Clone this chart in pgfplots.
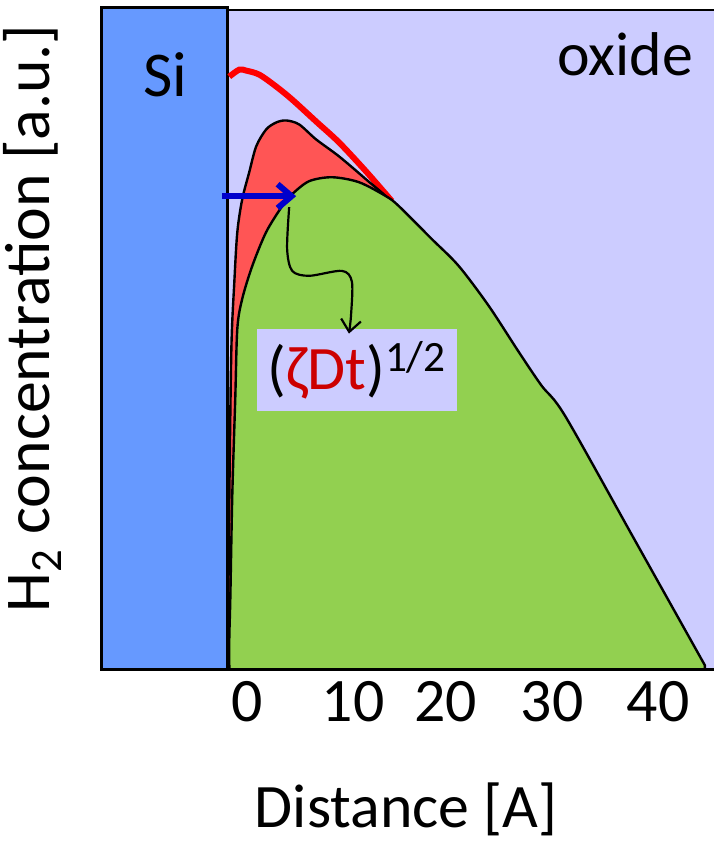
\documentclass[border=0pt]{standalone}
\usepackage{fontspec}
\setmainfont{Carlito}
\usepackage{pgfplots}
\pgfplotsset{compat=1.18}
\usetikzlibrary{arrows.meta}
\definecolor{siblue}{RGB}{102,153,255}
\definecolor{oxlav}{RGB}{204,204,255}
\definecolor{redfill}{RGB}{255,85,85}
\definecolor{greenfill}{RGB}{146,208,80}
\definecolor{arrowblue}{RGB}{0,0,204}
\definecolor{zred}{RGB}{204,0,0}
\begin{document}
\begin{tikzpicture}
\begin{axis}[
  scale only axis, width=307pt, height=332pt,
  xmin=-14.17, xmax=45.44, ymin=0, ymax=100.4,
  clip=false,
  axis line style={draw=none},
  major tick length=0pt,
  xtick={0,10.3,19.3,29.7,40}, xticklabels={0,10,20,30,40},
  ytick=\empty,
  xticklabel style={font=\fontsize{31}{37}\selectfont, yshift=-2.5pt},
  /pgf/number format/assume math mode=true,
  xlabel={Distance [A]},
  ylabel={H\textsubscript{2} concentration [a.u.]},
  xlabel style={at={(axis description cs:0.497,-0.2395)}, anchor=base, inner sep=0pt, font=\fontsize{31}{37}\selectfont},
  ylabel style={at={(axis description cs:-0.0847,0.530)}, anchor=base, inner sep=0pt, font=\fontsize{32}{38}\selectfont},
]
% bounding region
\path (axis cs:-24.08,-26.2) rectangle (axis cs:45.44,101.5);
% oxide background
\addplot[fill=oxlav, draw=none] coordinates {(-1.94,0) (-1.94,100) (45.44,100) (45.44,0)} --cycle;
% Si block
\addplot[fill=siblue, draw=black, line width=1.5pt] coordinates {(-14.17,0) (-14.17,100.4) (-1.94,100.4) (-1.94,0)} --cycle;
% oxide border
\addplot[black, line width=1.3pt] coordinates {(45.44,100) (-1.94,100) (-1.94,0)};
% red line
\addplot[red, line width=3pt, smooth] coordinates {
 (-1.75,89.88) (-0.78,90.94) (-0.10,90.79) (1.17,90.18) (2.82,88.37) (4.37,86.40)
 (6.70,83.08) (8.93,79.91) (11.55,75.53) (14.08,71.00)};
% red fill
\addplot[fill=redfill, draw=black, line width=1.2pt, smooth, tension=0.5] coordinates {
 (-1.84,0.30) (-1.84,5.0) (-1.84,10.88) (-1.75,25.98) (-1.55,48.64) (-1.26,58.76) (-0.97,66.31)
 (-0.49,71.30) (0.19,75.38) (0.87,79.31) (1.84,81.87) (2.82,82.93) (3.79,83.23)
 (5.05,82.63) (6.70,80.36) (8.93,77.79) (11.55,74.32) (14.27,70.54)
 (17.67,63.75) (24.47,50.15) (30.29,36.56) (39.32,0.30)} \closedcycle;
% green fill
\addplot[fill=greenfill, draw=black, line width=1.2pt, smooth, tension=0.5] coordinates {
 (-1.75,0.45) (-1.75,4.83) (-1.65,10.88) (-1.46,26.44) (-1.17,41.09) (-0.97,51.66)
 (-0.49,56.19) (0.49,61.18) (1.84,66.31) (3.40,70.24) (4.37,72.05) (6.02,74.02)
 (8.25,74.62) (10.87,73.87) (13.50,71.75) (14.76,70.24) (17.96,65.26) (20.58,61.18)
 (23.50,55.14) (26.41,48.19) (28.64,43.05) (30.97,38.37) (37.77,19.49) (44.56,0.60)} \closedcycle;
% bottom line
\addplot[black, line width=1.5pt] coordinates {(-14.17,0) (45.44,0)};
% blue arrow
\addplot[arrowblue, line width=3pt, -{Straight Barb[length=7pt,width=12pt]}] coordinates {(-2.43,71.75) (4.76,71.75)};
% label box
\node[fill=oxlav, minimum width=100pt, minimum height=41.5pt, inner sep=0pt,
      font=\fontsize{31}{37}\selectfont] at (axis cs:10.68,45.4)
  {(\textcolor{zred}{ζDt})\textsuperscript{1/2}};
% curly arrow
\addplot[black, line width=1.1pt, smooth, -{Straight Barb[length=6pt,width=10pt]}] coordinates {
 (4.08,70.09) (3.88,63.75) (4.37,60.42) (6.02,59.67) (9.22,60.42) (10.19,58.76) (10.10,53.63) (9.90,50.91)};
% texts
\node[font=\fontsize{32}{38}\selectfont, inner sep=0pt] at (axis cs:-7.96,90.18) {Si};
\node[font=\fontsize{31}{37}\selectfont, inner sep=0pt] at (axis cs:36.80,93.20) {oxide};
\end{axis}
\end{tikzpicture}
\end{document}
